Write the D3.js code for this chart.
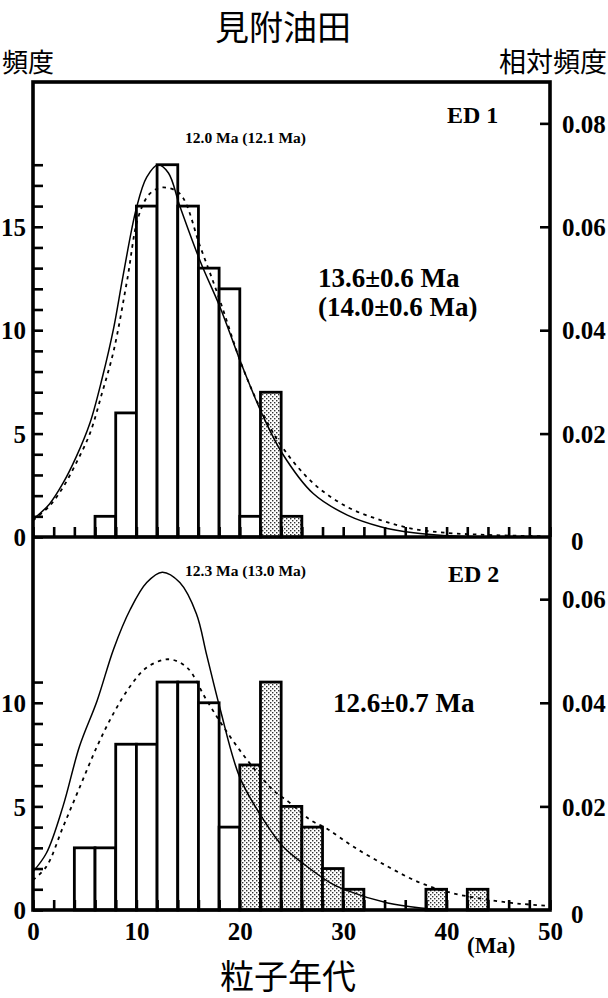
<!DOCTYPE html>
<html><head><meta charset="utf-8">
<script src="https://cdn.jsdelivr.net/npm/d3@7"></script>
<style>
html,body{margin:0;padding:0;background:#fff;}
svg{display:block;}
.num{font-family:"Liberation Serif","Times New Roman",serif;font-weight:bold;fill:#000;}
.jp{font-family:"Noto Sans CJK JP","Noto Sans CJK SC",sans-serif;fill:#000;}
</style></head><body>
<svg id="chart" width="608" height="998"></svg>
<script>
// Grain-age histograms (2 Ma bins) for two samples, with fitted frequency curves
const binWidth = 2;

// ED 1
const ed1BinStart = [6, 8, 10, 12, 14, 16, 18, 20, 22, 24];
const ed1Count    = [1, 6, 16, 18, 16, 13, 12, 1, 7, 1];
const ed1Shaded   = [false, false, false, false, false, false, false, false, true, true];

const ed1SolidAge  = [0, 1.6, 2.9, 4.2, 5.5, 6.7, 7.8, 8.7, 10.0, 11.0, 12.1, 13.1, 14.2, 16.2, 18.1, 20.2, 22.2, 24.1, 27.1, 30.4, 33.6, 36.8, 40, 44];
const ed1SolidFreq = [0.85, 1.6, 2.6, 3.9, 5.5, 7.7, 10.1, 12.6, 15.9, 17.4, 18.0, 17.6, 16.0, 13.3, 11.1, 8.3, 5.9, 4.05, 2.1, 1.06, 0.5, 0.2, 0.06, 0.0];
const ed1DashAge   = [0, 1.6, 2.9, 4.2, 5.5, 6.7, 7.8, 9.1, 10.2, 11.3, 12.5, 14.2, 16.2, 18.1, 20.2, 22.2, 24.1, 27.1, 30.4, 33.6, 36.8, 40, 43, 46, 49.5];
const ed1DashFreq  = [0.8, 1.5, 2.4, 3.6, 5.0, 7.0, 9.0, 12.4, 15.5, 16.6, 16.9, 16.6, 14.0, 11.4, 8.3, 6.0, 4.35, 2.6, 1.45, 0.82, 0.39, 0.2, 0.12, 0.07, 0.04];

// ED 2
const ed2BinStart = [4, 6, 8, 10, 12, 14, 16, 18, 20, 22, 24, 26, 28, 30, 38, 42];
const ed2Count    = [3, 3, 8, 8, 11, 11, 10, 4, 7, 11, 5, 4, 2, 1, 1, 1];
const ed2Shaded   = [false, false, false, false, false, false, false, false, true, true, true, true, true, true, true, true];

const ed2SolidAge  = [0, 1.3, 2.9, 4.5, 6.2, 7.8, 9.4, 11.0, 12.5, 14.2, 15.8, 16.8, 18.1, 20.0, 22.3, 24.2, 26.5, 28.8, 30.2, 34.3, 37.5, 40];
const ed2SolidFreq = [1.85, 2.75, 5.0, 7.9, 10.1, 12.6, 14.5, 15.8, 16.3, 15.8, 14.3, 12.3, 9.7, 6.4, 4.35, 3.05, 2.1, 1.3, 0.97, 0.34, 0.1, 0.02];
const ed2DashAge   = [0, 1.3, 2.9, 4.5, 6.2, 7.8, 9.4, 11.0, 13.1, 14.9, 16.7, 18.4, 20.7, 23.2, 24.9, 26.8, 28.5, 31.0, 34.3, 37.5, 40.7, 43.9, 47.1, 50];
const ed2DashFreq  = [1.45, 2.1, 4.0, 5.9, 7.9, 9.5, 10.8, 11.7, 12.1, 11.7, 10.2, 8.85, 7.25, 5.8, 5.15, 4.35, 3.9, 3.05, 2.1, 1.3, 0.8, 0.5, 0.3, 0.2];

// Axis ticks and labels
const ageTicks      = [0, 2, 4, 6, 8, 10, 12, 14, 16, 18, 20, 22, 24, 26, 28, 30, 32, 34, 36, 38, 40, 42, 44, 46, 48, 50];
const ageLabels     = [0, 10, 20, 30, 40, 50];
const countTicks1   = [0, 1, 2, 3, 4, 5, 6, 7, 8, 9, 10, 11, 12, 13, 14, 15, 16, 17, 18];
const countLabels1  = [0, 5, 10, 15];
const countTicks2   = [0, 1, 2, 3, 4, 5, 6, 7, 8, 9, 10, 11];
const countLabels2  = [0, 5, 10];
const relTicks1     = [0, 0.02, 0.04, 0.06, 0.08];
const relTicks2     = [0, 0.02, 0.04, 0.06];

const svg = d3.select("#chart");
const x = d3.scaleLinear().domain([0, 50]).range([33, 550]);

const defs = svg.append("defs");
const pat = defs.append("pattern").attr("id", "stipple")
  .attr("patternUnits", "userSpaceOnUse").attr("width", 4).attr("height", 4);
pat.append("rect").attr("width", 4).attr("height", 4).attr("fill", "#fff");
pat.append("rect").attr("x", 0).attr("y", 0).attr("width", 1.4).attr("height", 1.4).attr("fill", "#333");
pat.append("rect").attr("x", 2).attr("y", 2).attr("width", 1.4).attr("height", 1.4).attr("fill", "#333");

const panels = [
  { id: "p1", top: 82, base: 537, maxCount: 22, maxRel: 0.088,
    bins: ed1BinStart, counts: ed1Count, shaded: ed1Shaded,
    solid: [ed1SolidAge, ed1SolidFreq], dash: [ed1DashAge, ed1DashFreq],
    cTicks: countTicks1, cLabels: countLabels1, rTicks: relTicks1, ageText: false },
  { id: "p2", top: 537, base: 910, maxCount: 18, maxRel: 0.072,
    bins: ed2BinStart, counts: ed2Count, shaded: ed2Shaded,
    solid: [ed2SolidAge, ed2SolidFreq], dash: [ed2DashAge, ed2DashFreq],
    cTicks: countTicks2, cLabels: countLabels2, rTicks: relTicks2, ageText: true }
];

panels.forEach(p => {
  const y = d3.scaleLinear().domain([0, p.maxCount]).range([p.base, p.top]);
  const yRel = d3.scaleLinear().domain([0, p.maxRel]).range([p.base, p.top]);

  defs.append("clipPath").attr("id", "clip-" + p.id)
    .append("rect").attr("x", x(0)).attr("y", p.top).attr("width", x(50) - x(0)).attr("height", p.base - p.top);

  const g = svg.append("g");

  // histogram bars
  g.selectAll("rect.bar").data(p.bins.map((s, i) => ({ s, c: p.counts[i], sh: p.shaded[i] })))
    .join("rect").attr("class", "bar")
    .attr("x", d => x(d.s)).attr("width", d => x(d.s + binWidth) - x(d.s))
    .attr("y", d => y(d.c)).attr("height", d => y(0) - y(d.c))
    .attr("fill", d => d.sh ? "url(#stipple)" : "#fff")
    .attr("stroke", "#000").attr("stroke-width", 2.8);

  const line = d3.line().x(d => x(d[0])).y(d => y(d[1])).curve(d3.curveCatmullRom.alpha(0.5));
  const curves = g.append("g").attr("clip-path", `url(#clip-${p.id})`);
  curves.append("path").datum(p.dash[0].map((a, i) => [a, p.dash[1][i]]))
    .attr("d", line).attr("fill", "none").attr("stroke", "#000")
    .attr("stroke-width", 1.8).attr("stroke-dasharray", "3.5,4.5");
  curves.append("path").datum(p.solid[0].map((a, i) => [a, p.solid[1][i]]))
    .attr("d", line).attr("fill", "none").attr("stroke", "#000").attr("stroke-width", 1.5);

  // left count axis, ticks inward
  const la = svg.append("g").attr("transform", `translate(${x(0)},0)`)
    .call(d3.axisLeft(y).tickValues(p.cTicks).tickSize(-10).tickSizeOuter(0).tickPadding(7)
      .tickFormat(d => p.cLabels.includes(d) ? d : ""));
  la.select(".domain").remove();
  la.selectAll("line").attr("stroke", "#000").attr("stroke-width", 2.6);
  la.selectAll("text").attr("class", "num").attr("font-size", 25).attr("dy", "0.35em");

  // right relative-frequency axis, ticks inward
  const ra = svg.append("g").attr("transform", `translate(${x(50)},0)`)
    .call(d3.axisRight(yRel).tickValues(p.rTicks).tickSize(-10).tickSizeOuter(0).tickPadding(12)
      .tickFormat(d => d === 0 ? "0" : d3.format(".2f")(d)));
  ra.select(".domain").remove();
  ra.selectAll("line").attr("stroke", "#000").attr("stroke-width", 2.6);
  ra.selectAll("text").attr("class", "num").attr("font-size", 25).attr("dy", "0.35em");
  ra.selectAll(".tick").filter(d => d === 0).select("line").remove();
  ra.selectAll(".tick").filter(d => d === 0).select("text").attr("x", 21).attr("dy", "0.5em");

  // age axis along the panel base, ticks pointing up
  const xa = svg.append("g").attr("transform", `translate(0,${p.base})`)
    .call(d3.axisBottom(x).tickValues(ageTicks).tickSize(-10).tickSizeOuter(0).tickPadding(12)
      .tickFormat(d => (p.ageText && ageLabels.includes(d)) ? d : ""));
  xa.select(".domain").remove();
  xa.selectAll("line").attr("stroke", "#000").attr("stroke-width", 2.6);
  xa.selectAll("text").attr("class", "num").attr("font-size", 25);
});

// frame and panel divider
svg.append("rect").attr("x", x(0)).attr("y", 82).attr("width", x(50) - x(0)).attr("height", 910 - 82)
  .attr("fill", "none").attr("stroke", "#000").attr("stroke-width", 3.6);
svg.append("line").attr("x1", x(0)).attr("x2", x(50)).attr("y1", 537).attr("y2", 537)
  .attr("stroke", "#000").attr("stroke-width", 3.6);

// titles and annotations
const T = (cls, txt, xx, yy, size, anchor) => svg.append("text").attr("class", cls)
  .attr("x", xx).attr("y", yy).attr("font-size", size).attr("text-anchor", anchor || "start").text(txt);

T("jp", "見附油田", 283, 40, 34, "middle");
T("jp", "頻度", 2, 72, 26);
T("jp", "相対頻度", 499, 72, 27);
T("jp", "粒子年代", 288, 989, 34, "middle");

T("num", "ED 1", 447, 123, 24);
T("num", "ED 2", 448, 582, 24);
T("num", "12.0 Ma (12.1 Ma)", 185, 143, 15.5);
T("num", "12.3 Ma (13.0 Ma)", 185, 576, 15.5);
T("num", "13.6±0.6 Ma", 318, 287, 27);
T("num", "(14.0±0.6 Ma)", 318, 316, 27);
T("num", "12.6±0.7 Ma", 333, 712, 27);
T("num", "(Ma)", 467, 953, 23);
</script></body></html>
